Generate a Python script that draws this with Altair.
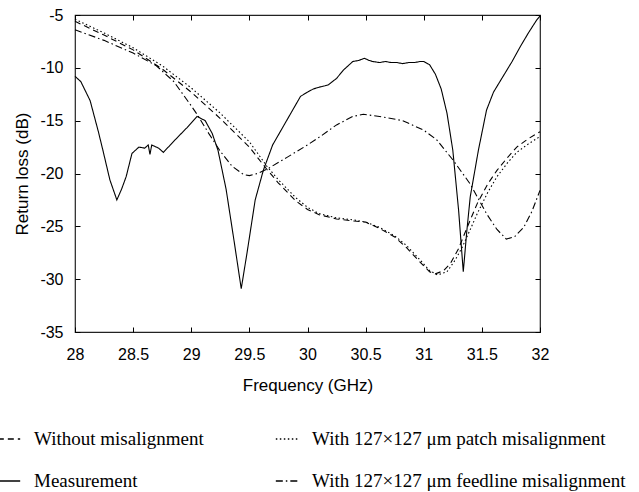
import altair as alt
import pandas as pd

# ---- data ----
meas_f = [28.00, 28.05, 28.13, 28.20, 28.24, 28.30, 28.36, 28.40, 28.44, 28.49,
          28.55, 28.60, 28.63, 28.645, 28.66, 28.72, 28.76, 28.82, 28.88, 28.96,
          29.05, 29.12, 29.18, 29.23, 29.30, 29.37, 29.43, 29.48, 29.55, 29.62,
          29.70, 29.82, 29.94, 30.00, 30.05, 30.11, 30.15, 30.18, 30.25, 30.31,
          30.39, 30.44, 30.49, 30.53, 30.56, 30.62, 30.67, 30.72, 30.77, 30.82,
          30.87, 30.92, 30.97, 31.00, 31.05, 31.10, 31.15, 31.20, 31.25, 31.30,
          31.34, 31.37, 31.40, 31.47, 31.54, 31.60, 31.68, 31.76, 31.83, 31.90,
          31.97, 32.00]
meas_db = [-10.8, -11.3, -13.1, -16.0, -17.8, -20.6, -22.5, -21.5, -20.3, -18.1,
           -17.5, -17.6, -17.3, -18.2, -17.3, -17.6, -18.0, -17.3, -16.6, -15.7,
           -14.6, -15.0, -16.2, -17.8, -21.5, -26.5, -30.9, -27.5, -22.5, -19.7,
           -17.3, -15.0, -12.7, -12.3, -12.0, -11.8, -11.7, -11.6, -11.0, -10.2,
           -9.4, -9.3, -9.1, -9.3, -9.4, -9.5, -9.4, -9.5, -9.5, -9.6,
           -9.5, -9.5, -9.4, -9.4, -9.7, -10.6, -12.0, -14.3, -17.8, -23.5,
           -29.3, -25.5, -22.2, -17.8, -14.0, -12.3, -10.85, -9.4, -8.0, -6.7,
           -5.5, -5.1]

sim_f = [28.00, 28.25, 28.50, 28.75, 29.00, 29.25, 29.50, 29.65, 29.75, 29.90,
         30.00, 30.10, 30.25, 30.40, 30.50, 30.62, 30.75, 30.85, 30.97, 31.05,
         31.10, 31.17, 31.23, 31.30, 31.34, 31.40, 31.46, 31.55, 31.63, 31.72,
         31.80, 31.90, 32.00]
sim_db = [-5.6, -6.9, -8.3, -10.1, -12.3, -14.8, -17.5, -19.6, -20.9, -22.6,
          -23.4, -23.9, -24.3, -24.5, -24.6, -25.2, -26.0, -27.0, -28.4, -29.3,
          -29.5, -29.2, -28.5, -27.1, -26.0, -24.4, -22.85, -21.0, -19.7, -18.5,
          -17.5, -16.7, -16.05]

patch_f = [28.00, 28.25, 28.50, 28.75, 29.00, 29.25, 29.50, 29.65, 29.75, 29.90,
           30.00, 30.10, 30.25, 30.40, 30.50, 30.62, 30.75, 30.85, 30.97, 31.05,
           31.12, 31.20, 31.27, 31.33, 31.40, 31.46, 31.55, 31.63, 31.72, 31.80,
           31.90, 32.00]
patch_db = [-5.4, -6.7, -8.1, -9.8, -11.9, -14.3, -17.0, -19.3, -20.6, -22.3,
            -23.2, -23.8, -24.2, -24.4, -24.6, -25.1, -25.9, -26.8, -28.2, -29.2,
            -29.6, -29.3, -28.2, -27.0, -25.3, -23.8, -21.8, -20.3, -19.0, -18.0,
            -17.2, -16.5]

feed_f = [28.00, 28.25, 28.50, 28.70, 28.85, 29.00, 29.05, 29.15, 29.25, 29.35,
          29.45, 29.50, 29.57, 29.65, 29.82, 30.00, 30.11, 30.25, 30.39, 30.48,
          30.62, 30.82, 31.00, 31.11, 31.25, 31.40, 31.54, 31.63, 31.71, 31.78,
          31.86, 31.93, 32.00]
feed_db = [-6.4, -7.4, -8.6, -9.8, -11.3, -13.6, -14.4, -16.2, -17.9, -19.3,
           -20.1, -20.2, -20.0, -19.6, -18.5, -17.3, -16.5, -15.4, -14.6, -14.4,
           -14.6, -15.0, -15.9, -16.8, -18.7, -21.0, -23.8, -25.3, -26.2, -26.0,
           -25.1, -23.6, -21.6]

# legend order (filled column by column): col 1 = first two, col 2 = last two
series_names = ["Without misalignment",
                "Measurement",
                "With 127\u00d7127 \u03bcm patch misalignment",
                "With 127\u00d7127 \u03bcm feedline misalignment"]
dash_styles = [[6, 4], [1, 0], [1.5, 2.5], [7, 3, 1.5, 3]]

x_ticks = [28, 28.5, 29, 29.5, 30, 30.5, 31, 31.5, 32]
y_ticks = [-35, -30, -25, -20, -15, -10, -5]

rows = []
for name, fs, ds in [(series_names[0], sim_f, sim_db),
                     (series_names[1], meas_f, meas_db),
                     (series_names[2], patch_f, patch_db),
                     (series_names[3], feed_f, feed_db)]:
    for i, (f, d) in enumerate(zip(fs, ds)):
        rows.append({"series": name, "f": f, "db": d, "i": i})
df = pd.DataFrame(rows)

FONT = "Liberation Sans"
SERIF = "Liberation Serif"

xscale = alt.Scale(domain=[28, 32], nice=False, zero=False)
yscale = alt.Scale(domain=[-35, -5], nice=False, zero=False)

lines = alt.Chart(df).mark_line(color="black", strokeWidth=1.1).encode(
    x=alt.X("f:Q", scale=xscale,
            axis=alt.Axis(orient="bottom", values=x_ticks, title="Frequency (GHz)",
                          grid=False, domain=False, offset=-5, tickSize=5,
                          tickColor="black", labelPadding=14, titlePadding=15,
                          labelFlush=False, labelOverlap=False,
                          labelExpr="'' + datum.value")),
    y=alt.Y("db:Q", scale=yscale,
            axis=alt.Axis(orient="left", values=y_ticks, title="Return loss (dB)",
                          grid=False, domain=False, offset=-5, tickSize=5,
                          tickColor="black", labelPadding=12, titlePadding=8,
                          labelFlush=False, labelOverlap=False,
                          labelExpr="'' + datum.value")),
    strokeDash=alt.StrokeDash(
        "series:N",
        scale=alt.Scale(domain=series_names, range=dash_styles),
        legend=alt.Legend(title=None, orient="none", legendX=-78, legendY=412,
                          columns=2, columnPadding=69, rowPadding=20,
                          symbolType="stroke", symbolSize=500,
                          symbolStrokeColor="black", symbolStrokeWidth=1.3,
                          labelFont=SERIF, labelFontSize=19, labelColor="black",
                          labelOffset=13, labelLimit=400)),
    order="i:Q",
)

frame_axes = alt.Chart(df).mark_line(opacity=0).encode(
    x=alt.X("f:Q", scale=xscale,
            axis=alt.Axis(orient="top", values=x_ticks, title=None, labels=False,
                          grid=False, domain=False, offset=-5, tickSize=5,
                          tickColor="black")),
    y=alt.Y("db:Q", scale=yscale,
            axis=alt.Axis(orient="right", values=y_ticks, title=None, labels=False,
                          grid=False, domain=False, offset=-5, tickSize=5,
                          tickColor="black")),
    detail="series:N",
)

chart = alt.layer(lines, frame_axes).resolve_axis(
    x="independent", y="independent"
).properties(
    width=465, height=317,
    autosize=alt.AutoSizeParams(type="none"),
    padding={"left": 75, "top": 15, "right": 99, "bottom": 160},
    background="white",
).configure_view(
    stroke="#222222", strokeWidth=1.2
).configure_axis(
    labelFont=FONT, labelFontSize=16, labelColor="black",
    titleFont=FONT, titleFontSize=17, titleFontWeight="normal", titleColor="black",
)

chart.save("out.html", embed_options={"renderer": "svg", "actions": False})
